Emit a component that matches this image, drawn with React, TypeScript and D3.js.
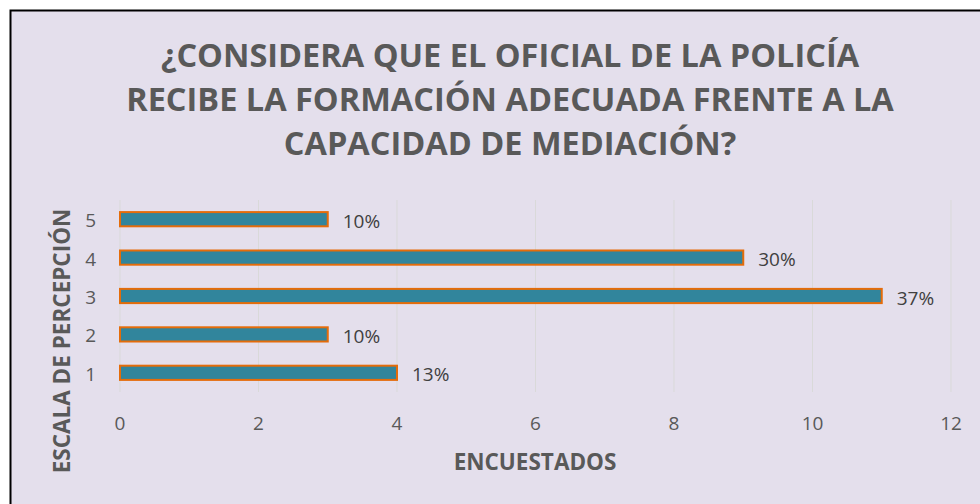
import React from "react";
import * as d3 from "d3";

// survey data: perception scale vs number of respondents
const categories = ["1", "2", "3", "4", "5"];
const counts = [4, 3, 11, 9, 3];
const percentLabels = ["13%", "10%", "37%", "30%", "10%"];
const xTicks = [0, 2, 4, 6, 8, 10, 12];
const titleLines = [
  "¿CONSIDERA QUE EL OFICIAL DE LA POLICÍA",
  "RECIBE LA FORMACIÓN ADECUADA FRENTE A LA",
  "CAPACIDAD DE MEDIACIÓN?",
];

const W = 980;
const H = 504;
const font = "'Open Sans', sans-serif";

const App = () => {
  const x = d3.scaleLinear().domain([0, 12]).range([120, 951]);
  // 5 on top, 1 at the bottom
  const y = d3
    .scaleBand()
    .domain([...categories].reverse())
    .range([200, 392])
    .paddingInner(0.63)
    .paddingOuter(0.315);

  return (
    <svg
      width={W}
      height={H}
      style={{ position: "absolute", left: 0, top: 0 }}
      fontFamily={font}
    >
      <rect x={0} y={0} width={W} height={H} fill="#fff" />
      <rect x={10.5} y={10.5} width={W + 10} height={H + 10} fill="#E4DFEC" stroke="#000" strokeWidth={2} />

      {titleLines.map((t, i) => (
        <text
          key={i}
          x={510}
          y={67 + i * 44}
          textAnchor="middle"
          fontSize={32.5}
          fontWeight="bold"
          fill="#595959"
        >
          {t}
        </text>
      ))}

      {/* vertical gridlines */}
      {xTicks.map((t) => (
        <line key={t} x1={x(t)} x2={x(t)} y1={200} y2={392} stroke="#D9D9D9" strokeWidth={1} />
      ))}

      {/* bars */}
      {categories.map((c, i) => (
        <g key={c}>
          <rect
            x={x(0)}
            y={y(c)}
            width={x(counts[i]) - x(0)}
            height={y.bandwidth()}
            fill="#31859C"
            stroke="#E46C0A"
            strokeWidth={2}
          />
          <text
            x={x(counts[i]) + 15}
            y={y(c)! + y.bandwidth() / 2 + 8.5}
            fontSize={19}
            fill="#404040"
          >
            {percentLabels[i]}
          </text>
          <text
            x={96}
            y={y(c)! + y.bandwidth() / 2 + 8}
            textAnchor="end"
            fontSize={19}
            fill="#595959"
          >
            {c}
          </text>
        </g>
      ))}

      {xTicks.map((t) => (
        <text key={t} x={x(t)} y={430} textAnchor="middle" fontSize={19} fill="#595959">
          {t}
        </text>
      ))}

      <text x={535} y={470} textAnchor="middle" fontSize={22.5} fontWeight="bold" fill="#595959">
        ENCUESTADOS
      </text>
      <text
        transform="translate(70,341) rotate(-90)"
        textAnchor="middle"
        fontSize={22.5}
        fontWeight="bold"
        fill="#595959"
      >
        ESCALA DE PERCEPCIÓN
      </text>
    </svg>
  );
};

export default App;
